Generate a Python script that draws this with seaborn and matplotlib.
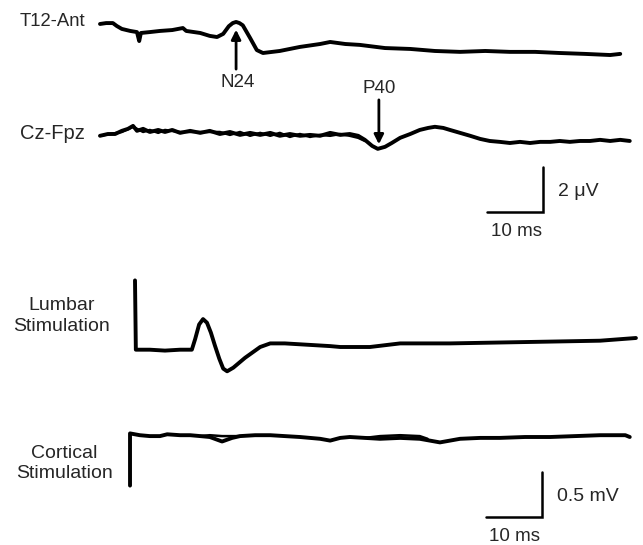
import numpy as np
import pandas as pd
import seaborn as sns
from matplotlib import pyplot as plt

sns.set_style('white')
plt.rcParams['font.family'] = ['Liberation Sans', 'DejaVu Sans']

# --- recorded responses, top panel (time ms, amplitude uV) ---
t12_t = [0, 1.1, 2.3, 3.0, 3.9, 5.4, 6.6, 7.0, 7.3, 8.9, 10.7, 12.9, 14.8, 15.4, 17.9, 19.6,
         20.9, 22.0, 23.0, 23.7, 24.3, 24.9, 25.5, 26.8, 28.0, 29.1, 32.1, 35.7, 39.3, 41.1,
         43.8, 46.4, 50.9, 55.4, 59.8, 64.3, 68.8, 73.2, 77.7, 82.1, 86.6, 91.1, 92.9]
t12_uv = [0, 0.04, 0.04, -0.09, -0.22, -0.31, -0.36, -0.76, -0.40, -0.36, -0.31, -0.27, -0.18,
          -0.31, -0.40, -0.53, -0.58, -0.44, -0.10, 0.04, 0.09, 0.04, -0.06, -0.62, -1.16,
          -1.29, -1.20, -1.02, -0.89, -0.80, -0.89, -0.93, -1.07, -1.11, -1.20, -1.24, -1.20,
          -1.24, -1.24, -1.29, -1.33, -1.38, -1.33]

cz_t = [0, 1.4, 2.7, 3.9, 5.0, 5.9, 6.6, 7.7, 8.9, 10.4, 11.6, 12.9, 14.3, 16.1, 17.9, 19.6,
        21.4, 23.2, 25.0, 26.8, 28.6, 30.4, 32.1, 33.9, 35.7, 37.5, 39.3, 41.1, 42.9, 44.6,
        46.1, 47.3, 48.6, 49.6, 50.9, 52.1, 53.6, 55.4, 57.1, 58.6, 59.8, 61.3, 62.5, 64.3,
        66.1, 67.9, 69.6, 71.4, 73.2, 75.0, 76.8, 78.6, 80.4, 82.1, 83.9, 85.7, 87.5, 89.3,
        91.1, 92.9, 94.6]
cz_uv = [-0.04, 0.04, 0.04, 0.18, 0.27, 0.40, 0.18, 0.27, 0.13, 0.22, 0.13, 0.22, 0.09, 0.18,
         0.09, 0.18, 0.04, 0.13, 0, 0.09, 0, 0.09, -0.04, 0.04, -0.04, 0, -0.04, 0.09, 0, 0.04,
         -0.04, -0.22, -0.49, -0.62, -0.53, -0.36, -0.13, 0.04, 0.22, 0.31, 0.36, 0.31, 0.22,
         0.09, -0.04, -0.18, -0.27, -0.31, -0.36, -0.31, -0.36, -0.31, -0.31, -0.27, -0.31,
         -0.27, -0.27, -0.22, -0.27, -0.22, -0.27]
# second superimposed sweep (early part only)
cz2_t = [0, 3.9, 5.9, 7.7, 8.9, 10.4, 11.6, 14.3, 17.9, 21.4, 23.2, 25.0, 26.8, 28.6, 30.4,
         32.1, 33.9, 35.7, 37.5, 39.3, 41.1, 42.9, 44.6, 46.1, 47.3]
cz2_uv = [-0.04, 0.13, 0.36, 0.13, 0.22, 0.09, 0.22, 0.13, 0.13, 0.13, 0.0, 0.13, -0.04, 0.09,
          -0.04, 0.09, -0.09, 0.04, -0.09, 0.0, -0.04, 0.04, -0.04, -0.13, -0.27]

# --- stimulation traces, bottom panel (time ms, amplitude mV) ---
lumbar_t = [6.25, 6.4, 8.9, 11.6, 14.3, 16.4, 17.0, 17.7, 18.4, 19.1, 19.8, 20.5, 21.3, 22.0,
            22.7, 23.8, 25.9, 28.6, 30.4, 33.0, 35.7, 41.1, 42.9, 48.2, 53.6, 62.5, 71.4,
            80.4, 89.3, 95.7]
lumbar_mv = [0.77, 0, 0, -0.01, 0, 0, 0.12, 0.28, 0.34, 0.30, 0.19, 0.05, -0.10, -0.21,
             -0.24, -0.20, -0.09, 0.03, 0.07, 0.07, 0.06, 0.04, 0.03, 0.03, 0.07, 0.07, 0.08,
             0.09, 0.10, 0.13]

cortical_t = [5.36, 5.36, 7.1, 8.9, 10.7, 12.0, 14.3, 16.1, 17.9, 19.6, 21.8, 23.6, 25.0, 27.7,
              30.4, 33.0, 35.7, 39.3, 41.1, 42.9, 44.6, 47.3, 50.0, 53.6, 57.1, 60.7, 64.3,
              67.9, 71.4, 75.9, 80.4, 84.8, 89.3, 93.8, 94.6]
cortical_mv = [-0.56, 0.02, 0, -0.01, -0.01, 0.01, 0, 0, -0.01, -0.02, -0.07, -0.03, -0.01, 0,
               0, -0.01, -0.02, -0.04, -0.06, -0.03, -0.02, -0.03, -0.04, -0.03, -0.04, -0.08,
               -0.04, -0.03, -0.03, -0.02, -0.02, -0.01, 0, 0, -0.02]
cortical2_t = [17.9, 19.6, 21.8, 23.6, 25.0, 47.3, 50.0, 53.6, 57.1, 58.5]
cortical2_mv = [-0.01, 0.0, -0.01, -0.01, -0.01, -0.03, -0.01, 0.0, -0.01, -0.04]

top_offsets = {'T12-Ant': 10.49, 'Cz-Fpz': 5.56}
bot_offsets = {'Lumbar': 2.17, 'Cortical': 1.22}

fig = plt.figure(figsize=(6.43, 5.45), dpi=100)
ax_top = fig.add_axes([0, 285 / 545, 1, 260 / 545])
ax_bot = fig.add_axes([0, 0, 1, 285 / 545])

xlim = (-100 / 5.6, 543 / 5.6)
ax_top.set_xlim(xlim)
ax_top.set_ylim(0, 260 / 22.5)
ax_bot.set_xlim(xlim)
ax_bot.set_ylim(0, 285 / 90)

style = dict(color='black', sort=False, estimator=None,
             solid_joinstyle='round', solid_capstyle='round')

def trace(ax, t, amp, offset, lw=2.8):
    sns.lineplot(x=t, y=np.array(amp) + offset, ax=ax, lw=lw, **style)

trace(ax_top, t12_t, t12_uv, top_offsets['T12-Ant'])
trace(ax_top, cz_t, cz_uv, top_offsets['Cz-Fpz'])
trace(ax_top, cz2_t, cz2_uv, top_offsets['Cz-Fpz'], lw=1.8)
trace(ax_bot, lumbar_t, lumbar_mv, bot_offsets['Lumbar'])
trace(ax_bot, cortical_t, cortical_mv, bot_offsets['Cortical'])
ax_bot.plot(cortical2_t[:5], np.array(cortical2_mv[:5]) + bot_offsets['Cortical'],
            color='black', lw=1.8)
ax_bot.plot(cortical2_t[5:], np.array(cortical2_mv[5:]) + bot_offsets['Cortical'],
            color='black', lw=1.8)

# channel labels
ax_top.text(-14.3, 10.58, 'T12-Ant', fontsize=13.3, ha='left', va='center')
ax_top.text(-14.3, 5.64, 'Cz-Fpz', fontsize=14.5, ha='left', va='center')
ax_bot.text(-6.8, 2.54, 'Lumbar\nStimulation', fontsize=14, ha='center', va='center',
            linespacing=1.3)
ax_bot.text(-6.4, 0.906, 'Cortical\nStimulation', fontsize=14, ha='center', va='center',
            linespacing=1.3)

# peak markers
ax_top.annotate('', xy=(24.3, 10.36), xytext=(24.3, 8.36),
                arrowprops=dict(arrowstyle='-|>', color='black', lw=2, mutation_scale=14))
ax_top.text(24.6, 7.91, 'N24', fontsize=13.5, ha='center', va='center')
ax_top.annotate('', xy=(49.8, 5.02), xytext=(49.8, 7.24),
                arrowprops=dict(arrowstyle='-|>', color='black', lw=2, mutation_scale=14))
ax_top.text(49.8, 7.64, 'P40', fontsize=13.5, ha='center', va='center')

# scale bars
def scale_bar(ax, x0, y0, dx, dy, xlab, ylab):
    ax.plot([x0 - dx, x0, x0], [y0, y0, y0 + dy], color='black', lw=1.8,
            solid_joinstyle='miter')
    ax.text(x0 + 2.7, y0 + dy * 0.45, ylab, fontsize=14, ha='left', va='center')
    ax.text(x0 - dx / 2 + 0.2, y0 - dy * 0.45, xlab, fontsize=13.5, ha='center', va='center')

scale_bar(ax_top, 79.1, 2.15, 10, 2.0, '10 ms', '2 μV')
scale_bar(ax_bot, 78.9, 0.314, 10, 0.5, '10 ms', '0.5 mV')

for ax in (ax_top, ax_bot):
    ax.set_axis_off()

fig.savefig('out.png', dpi=100)
